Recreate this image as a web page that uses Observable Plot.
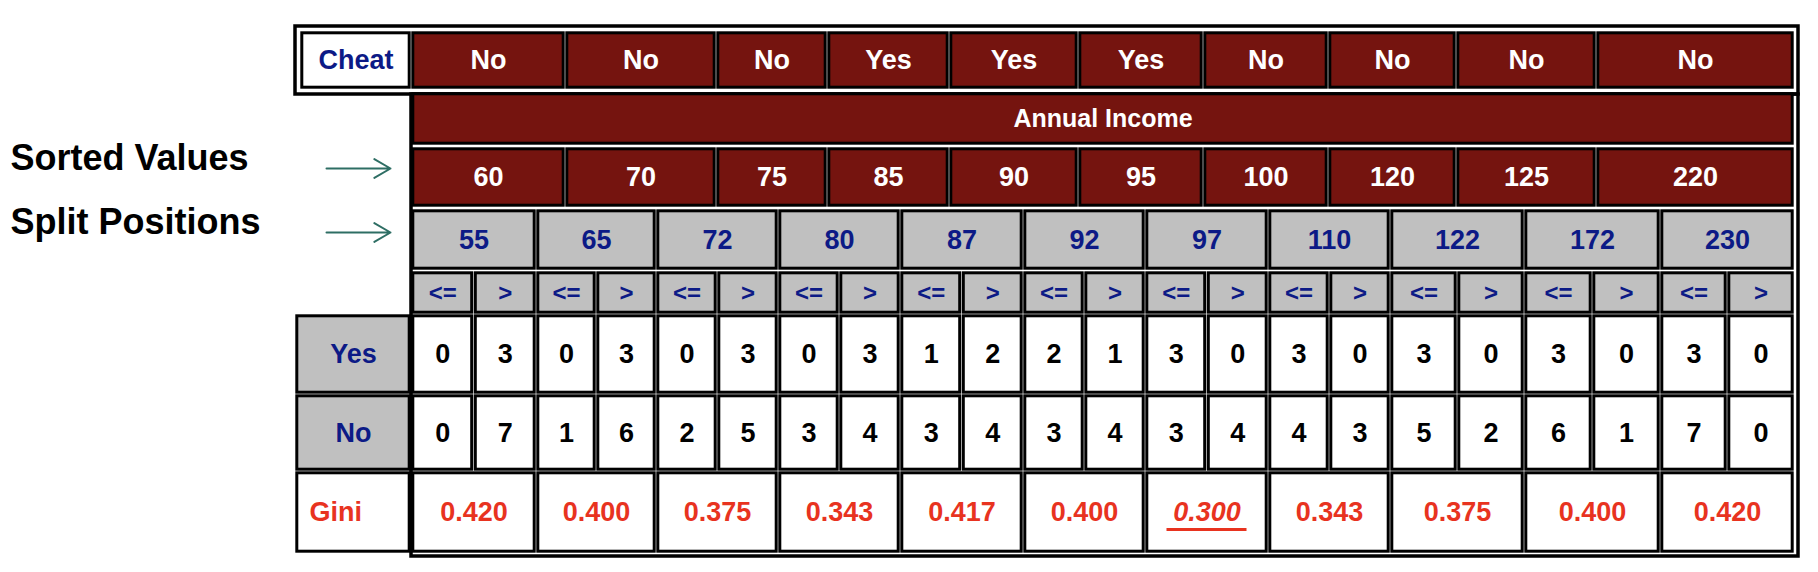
<!DOCTYPE html>
<html>
<head>
<meta charset="utf-8">
<script src="https://cdn.jsdelivr.net/npm/d3@7"></script>
<script src="https://cdn.jsdelivr.net/npm/@observablehq/plot@0.6"></script>
<style>
  body { margin: 0; background: #fff; }
</style>
</head>
<body>
<div id="chart"></div>
<script>
// data
const cheat = ["No", "No", "No", "Yes", "Yes", "Yes", "No", "No", "No", "No"];
const sortedValues = [60, 70, 75, 85, 90, 95, 100, 120, 125, 220];
const splits = [55, 65, 72, 80, 87, 92, 97, 110, 122, 172, 230];
const yesLE = [0, 0, 0, 0, 1, 2, 3, 3, 3, 3, 3];
const yesGT = [3, 3, 3, 3, 2, 1, 0, 0, 0, 0, 0];
const noLE = [0, 1, 2, 3, 3, 3, 3, 4, 5, 6, 7];
const noGT = [7, 6, 5, 4, 4, 4, 4, 3, 2, 1, 0];
const gini = ["0.420", "0.400", "0.375", "0.343", "0.417", "0.400", "0.300", "0.343", "0.375", "0.400", "0.420"];
const best = "0.300";

// layout (pixels)
const valueEdges = [411, 565, 716, 827, 949, 1078, 1203, 1328, 1456, 1596, 1794];
const splitEdges = [411, 536, 656, 778, 900, 1023, 1145, 1268, 1390, 1524, 1660, 1794];
const L = 295, R = 1794, LC = 411;
const rows = {cheat: [31, 89], head: [92, 145], val: [147, 207], split: [209, 270], op: [271, 314], yes: [314, 394], no: [394, 471], gini: [471, 553]};

const RED = "#75140f", GRAY = "#c0c0c0", NAVY = "#0c1a86", GRED = "#e8331f";
const cells = [];
const cell = (x1, x2, r, fill, text, color, size = 27, extra = {}) =>
  cells.push({x1, x2, y1: rows[r][0], y2: rows[r][1], fill, text: String(text), color, size, ...extra});

cell(L + 5, LC, "cheat", "#fff", "Cheat", NAVY);
cheat.forEach((c, i) => cell(valueEdges[i], valueEdges[i + 1], "cheat", RED, c, "#fff"));
cell(LC, R, "head", RED, "Annual Income", "#fff", 25);
sortedValues.forEach((v, i) => cell(valueEdges[i], valueEdges[i + 1], "val", RED, v, "#fff"));
splits.forEach((s, i) => {
  const a = splitEdges[i], b = splitEdges[i + 1], m = a + (b - a) * 0.5;
  cell(a, b, "split", GRAY, s, NAVY);
  cell(a, m, "op", GRAY, "<=", NAVY, 24);
  cell(m, b, "op", GRAY, ">", NAVY, 24);
  cell(a, m, "yes", "#fff", yesLE[i], "#000");
  cell(m, b, "yes", "#fff", yesGT[i], "#000");
  cell(a, m, "no", "#fff", noLE[i], "#000");
  cell(m, b, "no", "#fff", noGT[i], "#000");
  cell(a, b, "gini", "#fff", gini[i], GRED, 27, {italic: gini[i] === best});
});
cell(L, LC, "yes", GRAY, "Yes", NAVY);
cell(L, LC, "no", GRAY, "No", NAVY);
cell(L, LC, "gini", "#fff", "Gini", GRED, 27, {left: true});

const labels = [
  {x: 10, y: 158, text: "Sorted Values"},
  {x: 10, y: 222, text: "Split Positions"}
];
const arrows = [{x1: 326, x2: 390, y: 168}, {x1: 326, x2: 390, y: 232}];
const underline = cells.filter(d => d.italic).map(d => ({x1: (d.x1 + d.x2) / 2 - 40, x2: (d.x1 + d.x2) / 2 + 40, y: (d.y1 + d.y2) / 2 + 17}));

const mx = d => (d.x1 + d.x2) / 2, my = d => (d.y1 + d.y2) / 2;
const font = "Liberation Sans, Arial, sans-serif";

const chart = Plot.plot({
  width: 1818,
  height: 572,
  margin: 0,
  x: {domain: [0, 1818], range: [0, 1818], axis: null},
  y: {domain: [0, 572], range: [0, 572], axis: null},
  style: {fontFamily: font, background: "#fff"},
  marks: [
    // outer borders
    Plot.rect([{x1: L, x2: R + 4, y1: 26, y2: 94}], {x1: "x1", x2: "x2", y1: "y1", y2: "y2", fill: "none", stroke: "#000", strokeWidth: 3.5}),
    Plot.rect([{x1: LC, x2: R + 4, y1: 94, y2: 556}], {x1: "x1", x2: "x2", y1: "y1", y2: "y2", fill: "none", stroke: "#000", strokeWidth: 3.5}),
    Plot.rect(cells, {x1: "x1", x2: "x2", y1: "y1", y2: "y2", fill: "fill", stroke: "#000", strokeWidth: 3, inset: 1.8}),
    Plot.text(cells.filter(d => !d.italic && !d.left), {x: mx, y: my, text: "text", fill: "color", fontSize: "size", fontWeight: "bold", fontFamily: font}),
    Plot.text(cells.filter(d => d.left), {x: d => d.x1 + 14, y: my, text: "text", fill: "color", fontSize: "size", fontWeight: "bold", textAnchor: "start"}),
    Plot.text(cells.filter(d => d.italic), {x: mx, y: my, text: "text", fill: "color", fontSize: "size", fontWeight: "bold", fontStyle: "italic"}),
    Plot.ruleY(underline, {x1: "x1", x2: "x2", y: "y", stroke: GRED, strokeWidth: 3}),
    Plot.text(labels, {x: "x", y: "y", text: "text", textAnchor: "start", fontSize: 36, fontWeight: "bold", fill: "#000"}),
    Plot.arrow(arrows, {x1: "x1", x2: "x2", y1: "y", y2: "y", stroke: "#2e6e64", strokeWidth: 2, headLength: 14, bend: 0})
  ]
});
document.getElementById("chart").append(chart);
</script>
</body>
</html>
